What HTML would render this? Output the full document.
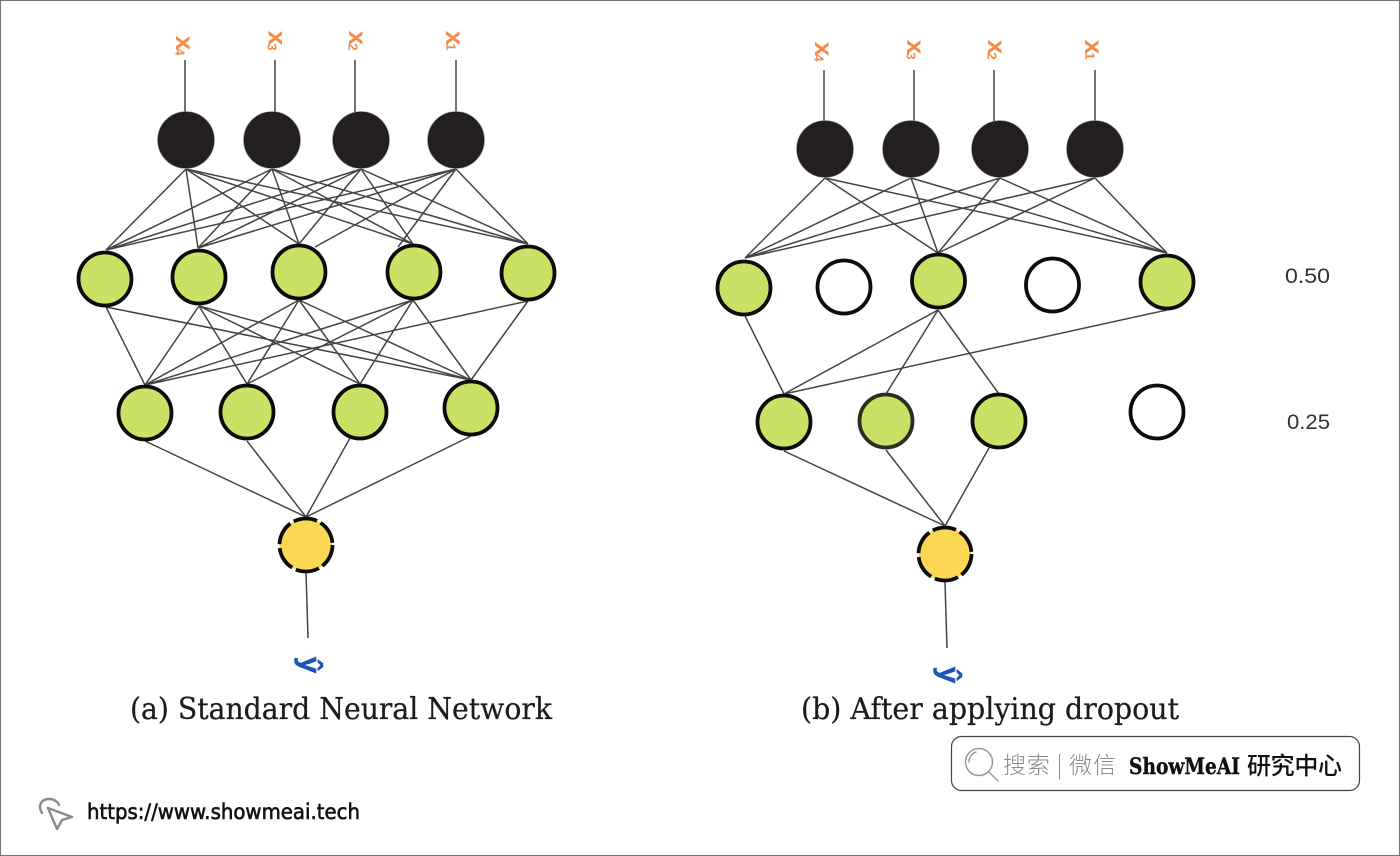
<!DOCTYPE html>
<html><head><meta charset="utf-8"><style>
html,body{margin:0;padding:0;background:#fff}
svg{display:block}
.x{font:bold 26px "Liberation Sans",sans-serif;fill:#f58b48;text-anchor:middle;dominant-baseline:central}
.s{font:bold 13px "Liberation Sans",sans-serif;fill:#f58b48;text-anchor:middle;dominant-baseline:central}
.h{font:bold 30px "Liberation Sans",sans-serif;fill:#1c55b4;stroke:#1c55b4;stroke-width:.5;text-anchor:middle;dominant-baseline:central}
.t{font:30px "DejaVu Serif","Liberation Serif",serif;fill:#1c1c1c;stroke:#1c1c1c;stroke-width:.25}
.n{font:21px "Liberation Sans",sans-serif;fill:#333}
</style></head><body>
<svg width="1400" height="856" viewBox="0 0 1400 856" xmlns="http://www.w3.org/2000/svg">
<rect x="0.5" y="0.5" width="1399" height="855" fill="#fff" stroke="#777"/>
<g fill="none" stroke="#444" stroke-width="1.5">
<path d="M185 60V112M275 60V112M355 60V112M456 60V112M306 572L308 638"/>
<path d="M186 169L106 250M186 169L198 248M186 169L299 244M186 169L413 244M186 169L528 244
M272 169L106 250M272 169L198 248M272 169L299 244M272 169L413 244M272 169L528 244
M361 169L106 250M361 169L198 248M361 169L299 244M361 169L413 244M361 169L528 244
M456 169L106 250M456 169L198 248M456 169L315 247M456 169L398 247M456 169L528 244"/>
<path d="M106 307L145 385M106 307L471 380
M199 306L145 385M199 306L247 384M199 306L360 384M199 306L471 380
M299 300L145 385M299 300L247 384M299 300L360 384M299 300L471 380
M413 300L145 385M413 300L247 384M413 300L360 384M413 300L471 380
M528 301L145 385M528 301L471 380"/>
<path d="M145 441L306 517M247 441L306 517M350 438L306 517M471 436L306 517"/>
<path d="M824 70V121M914 70V121M994 70V121M1095 70V121M945 582L947 648"/>
<path d="M825 178L745 258M825 178L938 253M825 178L1167 253
M911 178L745 258M911 178L938 253M911 178L1167 253
M1000 178L745 258M1000 178L938 253M1000 178L1167 253
M1095 178L745 258M1095 178L938 253M1095 178L1167 253"/>
<path d="M745 316L784 394M938 310L784 394M938 310L886 394M938 310L999 394M1167 310L784 394"/>
<path d="M784 451L945 526M886 450L945 526M989 448L945 526"/>
</g>
<g fill="#231f20" stroke="#999" stroke-width="0.6">
<circle cx="186" cy="140" r="28.5"/><circle cx="272" cy="140" r="28.5"/><circle cx="361" cy="140" r="28.5"/><circle cx="456" cy="140" r="28.5"/>
<circle cx="825" cy="149" r="28.5"/><circle cx="911" cy="149" r="28.5"/><circle cx="1000" cy="149" r="28.5"/><circle cx="1095" cy="149" r="28.5"/>
</g>
<g fill="#c9e265" stroke="#0c0c0c" stroke-width="3.800">
<circle cx="105" cy="279" r="26.5"/><circle cx="199" cy="277" r="26.5"/><circle cx="299" cy="272" r="26.5"/><circle cx="414" cy="272" r="26.5"/><circle cx="528" cy="273" r="26.5"/>
<circle cx="145" cy="413" r="26.5"/><circle cx="247" cy="412" r="26.5"/><circle cx="360" cy="412" r="26.5"/><circle cx="471" cy="408" r="26.5"/>
<circle cx="744" cy="288" r="26.5"/><circle cx="938.5" cy="281" r="26.5"/><circle cx="1167" cy="282" r="26.5"/>
<circle cx="784" cy="422" r="26.5"/><circle cx="886" cy="421" r="26.5" stroke="#2c2f20"/><circle cx="999" cy="421" r="26.5"/>
</g>
<g fill="#fff" stroke="#0c0c0c" stroke-width="3.800">
<circle cx="844" cy="287" r="26.5"/><circle cx="1052.5" cy="285" r="26.5"/><circle cx="1157" cy="412" r="26.5"/>
</g>
<g fill="#fbd753" stroke="#0c0c0c" stroke-width="3.800" stroke-dasharray="24 4">
<circle cx="306" cy="545" r="26.5"/><circle cx="945" cy="554" r="26.5"/>
</g>
<text class="x" transform="translate(185,43) rotate(90)">x</text><text class="s" transform="translate(180,52) rotate(90)">4</text>
<text class="x" transform="translate(277.500,38) rotate(90)">x</text><text class="s" transform="translate(272,47) rotate(90)">3</text>
<text class="x" transform="translate(358,38) rotate(90)">x</text><text class="s" transform="translate(353,47) rotate(90)">2</text>
<text class="x" transform="translate(455,38) rotate(90)">x</text><text class="s" transform="translate(451,47) rotate(90)">1</text>
<text class="x" transform="translate(824,49) rotate(90)">x</text><text class="s" transform="translate(819,58) rotate(90)">4</text>
<text class="x" transform="translate(916,47) rotate(90)">x</text><text class="s" transform="translate(911,56) rotate(90)">3</text>
<text class="x" transform="translate(997,47) rotate(90)">x</text><text class="s" transform="translate(992,56) rotate(90)">2</text>
<text class="x" transform="translate(1094,47) rotate(90)">x</text><text class="s" transform="translate(1090,56) rotate(90)">1</text>
<text class="h" transform="translate(310,665) rotate(90)">ŷ</text>
<text class="h" transform="translate(949,675) rotate(90)">ŷ</text>
<text class="t" x="130" y="719" textLength="422" lengthAdjust="spacingAndGlyphs">(a) Standard  Neural Network</text>
<text class="t" x="801" y="719" textLength="378" lengthAdjust="spacingAndGlyphs">(b) After applying dropout</text>
<text class="n" x="1285" y="283" textLength="45" lengthAdjust="spacingAndGlyphs">0.50</text>
<text class="n" x="1287" y="429" textLength="43" lengthAdjust="spacingAndGlyphs">0.25</text>
<rect x="951.500" y="736.500" width="408" height="54" rx="10" fill="#fff" stroke="#444" stroke-width="1.200"/>
<g fill="none" stroke="#999" stroke-width="1.500">
<circle cx="979" cy="762" r="13.500"/>
<path d="M989 772L998 781M969 762a10 10 0 0 1 7-10" stroke-linecap="round"/>
</g>
<text x="1003" y="773" font-family="'Noto Sans CJK SC',sans-serif" font-weight="300" font-size="23" fill="#8a8a8a" textLength="113" lengthAdjust="spacing">搜索 | 微信</text>
<text x="1129" y="774" font-family="'DejaVu Serif','Liberation Serif',serif" font-weight="bold" font-size="22" fill="#111" stroke="#111" stroke-width="0.400" textLength="111" lengthAdjust="spacingAndGlyphs">ShowMeAI</text>
<text x="1247" y="774" font-family="'Noto Sans CJK SC',sans-serif" font-weight="500" font-size="24" fill="#111" textLength="95" lengthAdjust="spacing">研究中心</text>
<g fill="none" stroke="#8a8a8a" stroke-width="2.400" stroke-linejoin="round" stroke-linecap="round">
<path d="M42 813C37 805 42 799 49 799C54 799 58 802 59 805"/>
<path d="M48 808L72 817L62 820L57 829Z"/>
</g>
<text x="87" y="819" font-family="'DejaVu Sans','Liberation Sans',sans-serif" font-size="21" fill="#111" stroke="#111" stroke-width="0.600" textLength="273" lengthAdjust="spacingAndGlyphs">https://www.showmeai.tech</text>
</svg>
</body></html>
